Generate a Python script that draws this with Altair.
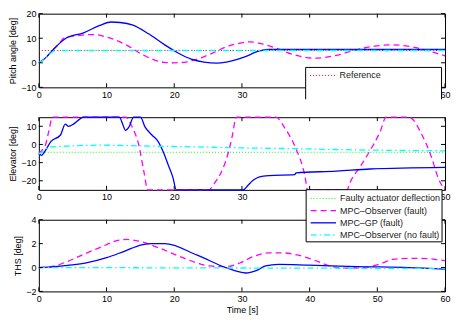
import altair as alt
import pandas as pd

FONT = "Liberation Sans"

# ---------------- data ----------------
# Panel 1: pitch angle [deg]
pitch_ref_t = [0, 60]
pitch_ref_v = [5, 5]
pitch_obs_t = [0, 1, 2, 3, 3.7, 6.1, 8, 10, 11.9, 13.3, 14.8, 15.7, 17, 18.5, 20, 21.5, 23.4,
               25.8, 27.7, 29.2, 31.1, 33, 35, 37.4, 40.7, 43.6, 47, 49.4, 52.3, 54.7, 57.6, 60]
pitch_obs_v = [0, 2, 5, 7.8, 10, 11.2, 11.5, 10.5, 8.6, 6.7, 4.1, 2.8, 1.2, 0.2, 0, 0.2, 1.5,
               4.1, 6.5, 7.7, 8.5, 7.7, 6, 3.5, 1.9, 2.8, 5.4, 6.7, 7.3, 6.7, 4.8, 2.8]
pitch_gp_t = [0, 1, 2, 3, 4, 6.6, 9, 10.7, 12, 13.8, 16.2, 18.6, 20.5, 22.5, 24.4, 26.3, 27.7,
              30.2, 32.6, 34, 36, 45, 60]
pitch_gp_v = [0, 2, 5, 7.8, 10, 12.2, 15.2, 16.6, 16.4, 15.4, 11.8, 7.3, 4.1, 1.5, 0.3, -0.1, 0.3,
              2.2, 4.8, 5.4, 5.4, 5.4, 5.4]
pitch_nf_t = [0, 0.5, 1, 1.5, 2, 2.5, 3, 60]
pitch_nf_v = [0, 0.8, 2, 3.3, 4.4, 4.9, 5, 5]

# Panel 2: elevator [deg]
elev_fault_t = [0, 60]
elev_fault_v = [-4.3, -4.3]
elev_obs_t = [0, 0.5, 1, 1.5, 2, 12.8, 13.8, 14.8, 15.5, 16.1, 25.1, 26, 26.8, 28, 28.5, 29.2,
              35, 36.4, 37.9, 39.3, 39.7, 45.5, 46, 47.5, 48.9, 50.4, 51.3, 54.7, 56.6, 58, 59, 60]
elev_obs_v = [-5, -3, 0, 7.8, 15, 15, 9.5, -0.9, -14.7, -25, -25, -21, -16.4, -4.3, 3.4, 15,
              15, 8.6, -1.7, -17.3, -25, -25, -20.7, -12, -3.5, 6.9, 15, 15, 5.2, -7, -18.6, -25]
elev_gp_t = [0, 0.4, 0.8, 1.8, 3.2, 3.9, 4.4, 5.1, 6.1, 6.6, 11.9, 12.4, 12.8, 13.3, 14, 15,
             15.7, 16.7, 17.6, 18.4, 19.1, 19.8, 20.3, 30.2, 30.9, 31.6, 32.6, 34, 37.8, 38.0,
             44, 48.9, 60]
elev_gp_v = [-5, -6, -4.3, 1.7, 5.2, 11.2, 10, 11.2, 14.1, 15, 15, 11, 7.8, 9.5, 15, 15,
             9.5, 5.2, 1.7, -4.3, -11.2, -18.1, -25, -25, -22.5, -19.9, -17.8, -17.1, -16.6, -15.6,
             -14.7, -13.5, -12.6]
elev_nf_t = [0, 0.5, 1, 1.8, 4.2, 9, 16.2, 21, 27.7, 30.2, 37.4, 47, 60]
elev_nf_v = [-5.2, -4.2, -2.5, -1.4, -0.9, -0.4, -0.9, -1.2, -1.7, -1.9, -2.3, -3.0, -3.5]

# Panel 3: THS [deg]
ths_obs_t = [0, 2, 4.2, 6.6, 9, 11.9, 13, 14.8, 17.6, 20.5, 23.4, 25.3, 27.7, 29.7, 31.6, 34,
             35.9, 38.3, 41.2, 43.1, 45, 47.5, 49.5, 50.8, 52.3, 55.6, 58.5, 60]
ths_obs_v = [0, 0.1, 0.5, 1.1, 1.67, 2.3, 2.35, 2.2, 1.67, 1.0, 0.38, 0.13, 0.08, 0.38, 0.9, 1.23,
             1.23, 1.03, 0.51, 0.1, -0.05, -0.02, 0.15, 0.38, 0.69, 0.77, 0.69, 0.57]
ths_gp_t = [0, 2, 4.2, 7, 10, 12.6, 15.2, 16.7, 18.6, 23.4, 27.6, 29.2, 30.6, 32.1, 33.5, 35.4,
            39.8, 47, 54.7, 60]
ths_gp_v = [0, 0.05, 0.18, 0.38, 0.82, 1.36, 1.9, 2.0, 2.0, 1.03, 0, -0.3, -0.46, -0.26, 0.13, 0.26,
            0.2, 0.08, 0, -0.13]
ths_nf_t = [0, 60]
ths_nf_v = [0, -0.08]

x_ticks = [0, 10, 20, 30, 40, 50, 60]
x_labels_mid = [0, 10, 20, 30, 60]   # 40 and 50 are hidden behind the legend in panel 2
pitch_ticks = [-10, 0, 10, 20]
elev_ticks = [-20, -10, 0, 10]
ths_ticks = [-2, 0, 2, 4]

legend1_labels = ["Reference"]
legend2_labels = ["Faulty actuator deflection", "MPC\u2013Observer (fault)",
                  "MPC\u2013GP (fault)", "MPC\u2013Observer (no fault)"]

# ---------------- styles ----------------
BLUE, MAG, CYAN, GREEN, RED = "#0000ff", "#ff00ff", "#00ffff", "#00ff00", "#ff0000"
DASH, DASHDOT, DOT = [6, 4], [6, 3, 1.5, 3], [1, 2]
W = 408
H1, H2, H3 = 74, 73, 72
SX = W / 416.0


def one():
    return pd.DataFrame({"k": [0]})


def make_panel(H, ydom, yticks, ytitle, series, xtitle=None, xlabels=None):
    xs = alt.Scale(domain=[0, 60], nice=False, zero=False)
    ys = alt.Scale(domain=ydom, nice=False, zero=False)
    xaxis = alt.Axis(values=xlabels or x_ticks, ticks=False, domain=False, grid=False,
                     labelPadding=3, labelFlush=False, title=xtitle, titlePadding=2)
    yaxis = alt.Axis(values=yticks, ticks=False, domain=False, grid=False, labelPadding=3,
                     labelFlush=False, title=ytitle, titlePadding=3)
    xe = alt.X("t:Q", scale=xs, axis=xaxis)
    ye = alt.Y("v:Q", scale=ys, axis=yaxis)
    layers = []
    for t, v, color, dash, sw in series:
        mk = dict(color=color, strokeWidth=sw, interpolate="monotone")
        if dash is not None:
            mk["strokeDash"] = dash
        layers.append(alt.Chart(pd.DataFrame({"t": t, "v": v})).mark_line(**mk).encode(x=xe, y=ye))
    xt = pd.DataFrame({"t": x_ticks})
    yt = pd.DataFrame({"v": yticks})
    layers.append(alt.Chart(xt).mark_rule(color="black", strokeWidth=1).encode(
        x=xe, y=alt.value(0), y2=alt.value(4)))
    layers.append(alt.Chart(xt).mark_rule(color="black", strokeWidth=1).encode(
        x=xe, y=alt.value(H - 4), y2=alt.value(H)))
    layers.append(alt.Chart(yt).mark_rule(color="black", strokeWidth=1).encode(
        y=ye, x=alt.value(0), x2=alt.value(4)))
    layers.append(alt.Chart(yt).mark_rule(color="black", strokeWidth=1).encode(
        y=ye, x=alt.value(W - 4), x2=alt.value(W)))
    return layers


def legend_entry(label, y, x0, x1, xt, color, dash, sw):
    mk = dict(color=color, strokeWidth=sw)
    if dash is not None:
        mk["strokeDash"] = dash
    r = alt.Chart(one()).mark_rule(**mk).encode(
        x=alt.value(x0), x2=alt.value(x1), y=alt.value(y))
    t = alt.Chart(pd.DataFrame({"label": [label]})).mark_text(
        align="left", baseline="middle", font=FONT, fontSize=9, color="#222222").encode(
        x=alt.value(xt), y=alt.value(y), text="label:N")
    return [r, t]


# Panel 1
p1_layers = make_panel(H1, [-10, 20], pitch_ticks, "Pitch angle [deg]", [
    (pitch_ref_t, pitch_ref_v, RED, DOT, 1),
    (pitch_obs_t, pitch_obs_v, MAG, DASH, 1.3),
    (pitch_gp_t, pitch_gp_v, BLUE, None, 1.3),
    (pitch_nf_t, pitch_nf_v, CYAN, DASHDOT, 1.3),
])
bx0, bx1, by0, by1 = 268, 404.5, 54, 86
p1_layers.append(alt.Chart(one()).mark_rect(fill="white", strokeWidth=0).encode(
    x=alt.value(bx0), x2=alt.value(bx1), y=alt.value(by0), y2=alt.value(by1)))
for (a, b, c, d) in [(bx0, bx0, by0, by1), (bx1, bx1, by0, by1), (bx0, bx1, by0, by0)]:
    p1_layers.append(alt.Chart(one()).mark_rule(color="black", strokeWidth=1).encode(
        x=alt.value(a), x2=alt.value(b), y=alt.value(c), y2=alt.value(d)))
p1_layers += legend_entry(legend1_labels[0], 62, 272.5, 298, 302, RED, DOT, 1)
p1 = alt.layer(*p1_layers).properties(width=W, height=H1)

# Panel 2
p2_layers = make_panel(H2, [-25, 15], elev_ticks, "Elevator [deg]", [
    (elev_fault_t, elev_fault_v, GREEN, DOT, 1),
    (elev_obs_t, elev_obs_v, MAG, DASH, 1.3),
    (elev_gp_t, elev_gp_v, BLUE, None, 1.3),
    (elev_nf_t, elev_nf_v, CYAN, DASHDOT, 1.3),
], xlabels=x_labels_mid)
p2 = alt.layer(*p2_layers).properties(width=W, height=H2)

# Panel 3 (also carries the legend box of panel 2, drawn on top)
p3_layers = make_panel(H3, [-2, 4], ths_ticks, "THS [deg]", [
    (ths_obs_t, ths_obs_v, MAG, DASH, 1.3),
    (ths_gp_t, ths_gp_v, BLUE, None, 1.3),
    (ths_nf_t, ths_nf_v, CYAN, DASHDOT, 1.3),
], xtitle="Time [s]")
p3_layers.append(alt.Chart(one()).mark_rect(fill="white", stroke="black", strokeWidth=1).encode(
    x=alt.value(268.5), x2=alt.value(405), y=alt.value(-30.2), y2=alt.value(22.2)))
rows = [-21.4, -9.2, 3.1, 15.3]
styles = [(GREEN, DOT, 1), (MAG, DASH, 1.3), (BLUE, None, 1.3), (CYAN, DASHDOT, 1.3)]
for lab, yy, (c, d, sw) in zip(legend2_labels, rows, styles):
    p3_layers += legend_entry(lab, yy, 273, 298.5, 302.5, c, d, sw)
p3 = alt.layer(*p3_layers).properties(width=W, height=H3)

chart = alt.vconcat(p1, p2, p3, spacing=30, bounds="flush").properties(
    padding={"left": 0, "top": 0, "right": 0, "bottom": 0}
).configure_view(stroke="black", strokeWidth=1).configure_axis(
    labelFont=FONT, labelFontSize=9, labelColor="black",
    titleFont=FONT, titleFontSize=9, titleFontWeight="normal", titleColor="black"
)

chart.save("out.html", embed_options={"renderer": "svg", "actions": False})
